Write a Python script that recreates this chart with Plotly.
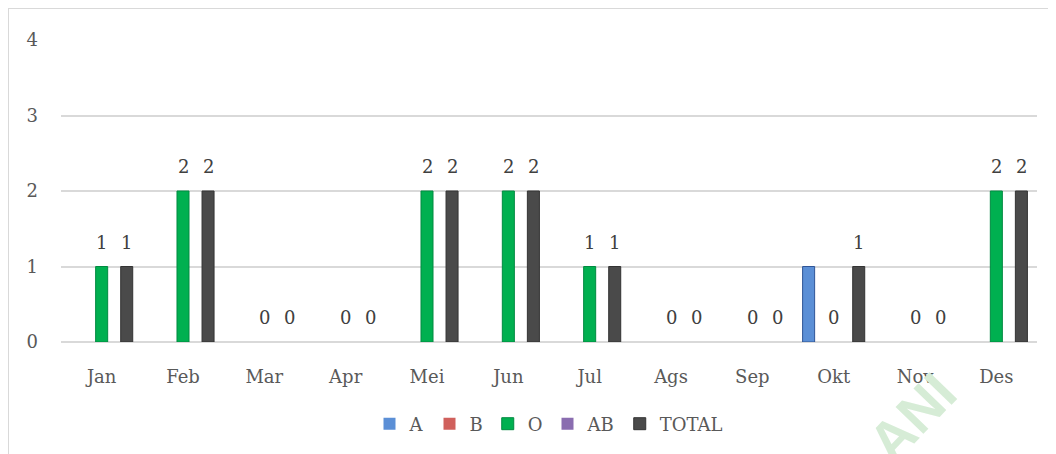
import plotly.graph_objects as go

months = ["Jan", "Feb", "Mar", "Apr", "Mei", "Jun", "Jul", "Ags", "Sep", "Okt", "Nov", "Des"]
series_names = ["A", "B", "O", "AB", "TOTAL"]
val_A = [0, 0, 0, 0, 0, 0, 0, 0, 0, 1, 0, 0]
val_B = [0, 0, 0, 0, 0, 0, 0, 0, 0, 0, 0, 0]
val_O = [1, 2, 0, 0, 2, 2, 1, 0, 0, 0, 0, 2]
val_AB = [0, 0, 0, 0, 0, 0, 0, 0, 0, 0, 0, 0]
val_TOTAL = [1, 2, 0, 0, 2, 2, 1, 0, 0, 1, 0, 2]
y_ticks = [0, 1, 2, 3, 4]

values = [val_A, val_B, val_O, val_AB, val_TOTAL]
colors = ["#5b8fd6", "#d0605c", "#00b050", "#8a6db0", "#4a4a4a"]
edges = ["#2f5597", "#943634", "#008a40", "#5f4a85", "#333333"]
labelled = ["O", "TOTAL"]

FONT = "DejaVu Serif"
TXT = "#595959"
FS = 18

W, H = 1056, 454
L, R, T, B = 53, 27, 32, 120
BARGAP, GROUPGAP = 0.23, 0.04
n_series = len(series_names)
slot = (1 - BARGAP) / n_series

fig = go.Figure()
for name, vals, c, e in zip(series_names, values, colors, edges):
    fig.add_trace(go.Bar(
        x=months, y=vals, name=name,
        marker=dict(color=c, line=dict(color=e, width=[1 if v else 0 for v in vals])),
    ))

annotations = []
for si, (name, vals) in enumerate(zip(series_names, values)):
    if name not in labelled:
        continue
    off = (si - (n_series - 1) / 2) * slot
    for mi, v in enumerate(vals):
        annotations.append(dict(
            x=mi + off, y=v, xref="x", yref="y", text=str(v), showarrow=False,
            yanchor="bottom", yshift=12,
            font=dict(family=FONT, size=FS, color="#404040")))

annotations.append(dict(text="<b>ANI</b>", xref="paper", yref="paper",
                        x=0.872, y=-0.25, xanchor="center", yanchor="middle", showarrow=False,
                        textangle=-46, font=dict(family="Liberation Sans", size=56, color="#d6ecd6")))

fig.update_layout(
    width=W, height=H,
    margin=dict(l=L, r=R, t=T, b=B),
    paper_bgcolor="white", plot_bgcolor="white",
    barmode="group", bargap=BARGAP, bargroupgap=GROUPGAP,
    font=dict(family=FONT, size=FS, color=TXT),
    showlegend=True,
    legend=dict(orientation="h", x=0.5, xanchor="center", y=-0.2715, yanchor="middle",
                font=dict(family=FONT, size=FS, color=TXT), itemwidth=30),
    xaxis=dict(showgrid=False, showline=False, ticks="", ticklabelstandoff=22,
               tickfont=dict(size=FS, color=TXT)),
    yaxis=dict(range=[0, 4], tickvals=y_ticks, showgrid=True, gridcolor="#d9d9d9", gridwidth=1.5,
               zeroline=True, zerolinecolor="#d9d9d9", zerolinewidth=1.5,
               ticks="", ticklabelstandoff=22, tickfont=dict(size=FS, color=TXT)),
    shapes=[dict(type="rect", xref="paper", yref="paper",
                 x0=-L / (W - L - R), x1=1 + R / (W - L - R),
                 y0=-B / (H - T - B), y1=1 + T / (H - T - B),
                 line=dict(color="#d9d9d9", width=2), fillcolor="rgba(0,0,0,0)", layer="below")],
    annotations=annotations,
)

fig.write_html("out.html")
